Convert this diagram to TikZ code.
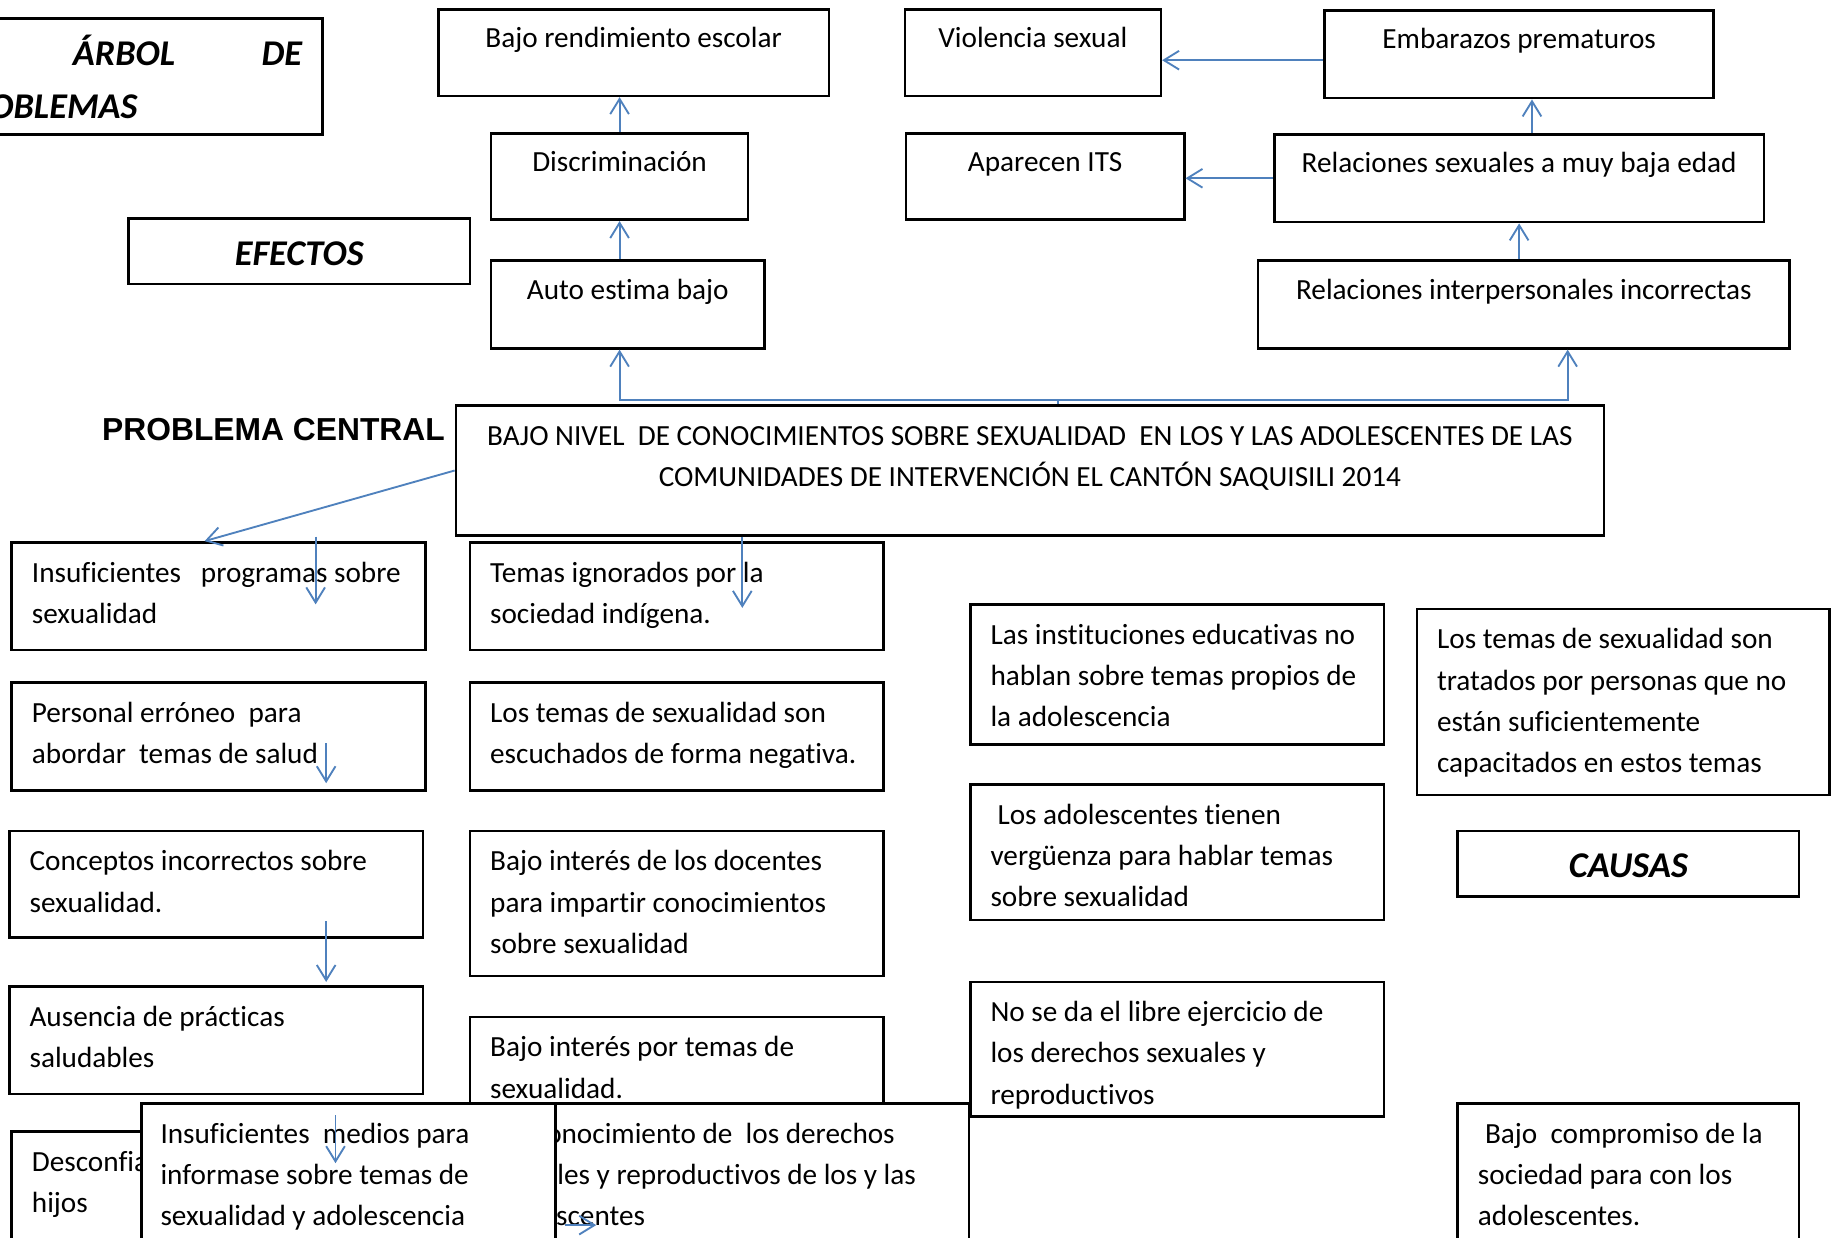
\documentclass[tikz,border=0pt]{standalone}
\usepackage{fontspec}
\setmainfont{Carlito}[Ligatures={NoCommon}]
\newfontfamily\arialfont{Liberation Sans}
\usetikzlibrary{arrows.meta,fit,calc}
\definecolor{arrowblue}{RGB}{79,129,189}
\tikzset{
  boxnd/.style={draw=black, line width=1.1pt, inner sep=0pt, fill=white},
  txt/.style={inner sep=0pt, font=\fontsize{12.5}{17.7}\selectfont, text=black},
  ttl/.style={inner sep=0pt, font=\fontsize{15.5}{18}\selectfont\bfseries\itshape},
  conn/.style={draw=arrowblue, line width=0.8pt, -{Straight Barb[length=6.5pt,width=8pt]}},
  tree/.style={draw=arrowblue, line width=0.8pt},
}
\newcommand\mkleftbox[6]{%
  \node[boxnd, fit={(#2,#3) (#4,#5)}] (#1) {};
  \node[txt, anchor=base west] (#1-t) at ($(#1.north west)+(18,35)$) {\parbox[t]{360pt}{#6}};
}
\newcommand\mkcenterbox[6]{%
  \node[boxnd, fit={(#2,#3) (#4,#5)}] (#1) {};
  \node[txt, anchor=base] (#1-t) at ($(#1.north)+(0,34)$) {#6};
}
\begin{document}
\begin{tikzpicture}[x=0.5pt,y=-0.5pt]
\useasboundingbox (0,0) rectangle (1568,1059);
\clip (0,0) rectangle (1568,1059);

% title
\node[boxnd, fit={(-20,16) (276,115)}] (titlebox) {};
\node[ttl, anchor=base west] (title1) at (62,56) {\makebox[98pt][l]{ÁRBOL\hfill DE}};
\node[ttl, anchor=base east] (title2) at (118,101) {PROBLEMAS};

\node[boxnd, fit={(110,187) (402,243)}] (efb) {};
\node[ttl, anchor=base] (efb-t) at ($(efb.center)+(0,12)$) {EFECTOS};

% effects
\mkcenterbox{bajorend}{375}{8}{709}{82}{Bajo rendimiento escolar}
\mkcenterbox{discrim}{420}{114}{640}{188}{Discriminación}
\mkcenterbox{auto}{420}{223}{654}{298}{Auto estima bajo}
\mkcenterbox{viol}{774}{8}{993}{82}{Violencia sexual}
\mkcenterbox{emb}{1133}{9}{1466}{84}{Embarazos prematuros}
\mkcenterbox{its}{775}{114}{1013}{188}{Aparecen ITS}
\mkcenterbox{relsex}{1090}{115}{1509}{190}{Relaciones sexuales a muy baja edad}
\mkcenterbox{relint}{1076}{223}{1531}{298}{Relaciones interpersonales incorrectas}

% central problem
\node[anchor=base west, inner sep=0pt, font=\arialfont\bfseries\fontsize{13.6}{16}\selectfont] (pclabel) at (87,377) {PROBLEMA CENTRAL};
\node[boxnd, fit={(390,347) (1372,458)}] (cp) {};
\node[txt, anchor=base] (cp-t) at ($(cp.north)+(0,35)$) {\parbox[t]{490pt}{\centering BAJO NIVEL~~DE CONOCIMIENTOS SOBRE SEXUALIDAD~~EN LOS Y LAS ADOLESCENTES DE LAS\\COMUNIDADES DE INTERVENCIÓN EL CANTÓN SAQUISILI 2014}};

% causes left
\mkleftbox{insprog}{10}{464}{364}{556}{Insuficientes~~~programas sobre\\sexualidad}
\mkleftbox{personal}{10}{584}{364}{676}{Personal erróneo~~para\\abordar~~temas de salud}
\mkleftbox{conceptos}{8}{711}{362}{802}{Conceptos incorrectos sobre\\sexualidad.}
\mkleftbox{ausencia}{8}{844}{362}{936}{Ausencia de prácticas\\saludables}
% causes middle
\mkleftbox{temas}{402}{464}{756}{556}{Temas ignorados por la\\sociedad indígena.}
\mkleftbox{escuchados}{402}{584}{756}{676}{Los temas de sexualidad son\\escuchados de forma negativa.}
\mkleftbox{docentes}{402}{711}{756}{835}{Bajo interés de los docentes\\para impartir conocimientos\\sobre sexualidad}
\mkleftbox{interes}{402}{870}{756}{965}{Bajo interés por temas de\\sexualidad.}
% causes right
\mkleftbox{instit}{830}{517}{1184}{637}{Las instituciones educativas no\\hablan sobre temas propios de\\la adolescencia}
\mkleftbox{verg}{830}{671}{1184}{787}{\hspace*{3pt}Los adolescentes tienen\\vergüenza para hablar temas\\sobre sexualidad}
\mkleftbox{libre}{830}{840}{1184}{955}{No se da el libre ejercicio de\\los derechos sexuales y\\reproductivos}
\mkleftbox{tratados}{1212}{521}{1565}{680}{Los temas de sexualidad son\\tratados por personas que no\\están suficientemente\\capacitados en estos temas}
\node[boxnd, fit={(1247,711) (1539,767)}] (causas) {};
\node[ttl, anchor=base] (causas-t) at ($(causas.center)+(0,12)$) {CAUSAS};
\mkleftbox{compromiso}{1247}{944}{1539}{1090}{\hspace*{3pt}Bajo~~compromiso de la\\sociedad para con los\\adolescentes.}
% overlapping bottom boxes
\mkleftbox{desconf}{10}{968}{364}{1090}{Desconfianza\\hijos}
\mkleftbox{desconoc}{402}{944}{829}{1090}{Desconocimiento de~~los derechos\\sexuales y reproductivos de los y las\\adolescentes}
\node[boxnd, fit={(121,944) (475,1090)}] (insmed) {};
\node[txt, anchor=base west] (insmed-t) at ($(insmed.north west)+(17,35)$) {\parbox[t]{360pt}{Insuficientes~~medios para\\informase sobre temas de\\sexualidad y adolescencia}};

% effect connectors
\draw[conn] (auto.north -| discrim.south) -- (discrim.south);
\draw[conn] (discrim.north) -- (discrim.north |- bajorend.south);
\draw[conn] ([yshift=-2.5pt]emb.west) -- ([yshift=-2.5pt]emb.west -| viol.east);
\draw[conn] (relsex.west) -- (relsex.west -| its.east);
\draw[conn] ([xshift=5.5pt]relsex.north) -- ([xshift=5.5pt]relsex.north |- emb.south);
\draw[conn] (relint.north -| relsex.south) -- (relsex.south);

% tree from central problem
\coordinate (jn) at (905,342);
\draw[tree] (cp.north -| jn) -- (jn);
\draw[conn] (jn) -| (auto.south -| discrim.south);
\draw[conn] (jn) -| ([xshift=18.75pt]relint.south);
\draw[conn] (cp.west) -- ([xshift=-6pt]insprog.north);

% stray arrows
\coordinate (s1a) at (270,459); \coordinate (s1b) at (270,517);
\coordinate (s2a) at (635,459); \coordinate (s2b) at (635,520);
\coordinate (s3a) at (279,636); \coordinate (s3b) at (279,670);
\coordinate (s4a) at (279,788); \coordinate (s4b) at (279,840);
\coordinate (s5a) at (287,954); \coordinate (s5b) at (287,995);
\coordinate (s6a) at (483,1048); \coordinate (s6b) at (510,1048);
\draw[conn] (s1a) -- (s1b);
\draw[conn] (s2a) -- (s2b);
\draw[conn] (s3a) -- (s3b);
\draw[conn] (s4a) -- (s4b);
\draw[conn] (s5a) -- (s5b);
\draw[conn] (s6a) -- (s6b);
\end{tikzpicture}
\end{document}
